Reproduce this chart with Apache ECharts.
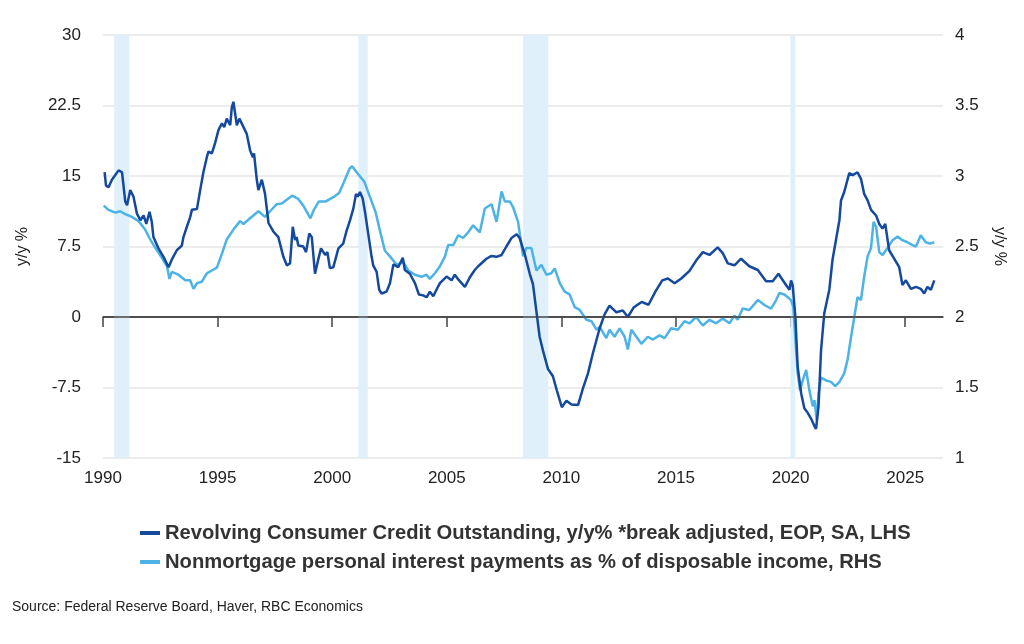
<!DOCTYPE html>
<html>
<head>
<meta charset="utf-8">
<script src="https://cdn.jsdelivr.net/npm/echarts@6/dist/echarts.min.js"></script>
<style>
  html, body { margin: 0; padding: 0; background: #fff; }
  #main { width: 1024px; height: 644px; }
</style>
</head>
<body>
<div id="main"></div>
<script>
// revolving credit, y/y % (left axis) as [year, value]
const revolving = [
  [1990.07, 15.4], [1990.13, 14.0], [1990.24, 13.8], [1990.39, 14.6], [1990.46, 14.4],
  [1990.68, 15.6], [1990.83, 15.4], [1990.97, 12.3], [1991.05, 11.9], [1991.19, 13.5],
  [1991.33, 12.8], [1991.48, 11.0], [1991.63, 10.3], [1991.77, 10.8], [1991.89, 9.9],
  [1992.03, 11.2], [1992.13, 10.1], [1992.20, 8.5], [1992.42, 7.3], [1992.64, 6.4],
  [1992.86, 5.3], [1993.00, 6.1], [1993.22, 7.1], [1993.44, 7.6], [1993.51, 8.5],
  [1993.66, 9.6], [1993.80, 10.6], [1993.88, 11.4], [1994.10, 11.5], [1994.24, 13.5],
  [1994.38, 15.4], [1994.53, 17.0], [1994.60, 17.6], [1994.75, 17.4], [1994.89, 18.5],
  [1995.04, 19.9], [1995.19, 20.6], [1995.29, 20.2], [1995.40, 21.1], [1995.55, 20.4],
  [1995.62, 22.3], [1995.69, 22.9], [1995.76, 23.1], [1995.84, 20.4], [1995.95, 21.1],
  [1996.13, 20.2], [1996.27, 19.5], [1996.42, 17.7], [1996.54, 17.0], [1996.59, 17.4],
  [1996.71, 14.6], [1996.78, 13.5], [1996.93, 14.6], [1997.07, 13.1], [1997.22, 10.0],
  [1997.29, 10.1], [1997.43, 9.1], [1997.65, 8.5], [1997.87, 6.4], [1998.02, 5.5],
  [1998.16, 5.7], [1998.28, 9.6], [1998.38, 8.2], [1998.45, 8.5], [1998.52, 7.6],
  [1998.74, 7.5], [1998.86, 6.9], [1999.00, 8.9], [1999.11, 8.5], [1999.25, 4.6],
  [1999.39, 6.1], [1999.51, 7.3], [1999.69, 6.6], [1999.79, 6.9], [1999.90, 5.2],
  [2000.05, 5.3], [2000.27, 7.3], [2000.48, 7.8], [2000.63, 9.2], [2000.78, 10.3],
  [2000.92, 11.5], [2001.04, 13.1], [2001.11, 12.8], [2001.21, 13.3], [2001.33, 12.6],
  [2001.43, 11.2], [2001.57, 8.9], [2001.72, 6.4], [2001.79, 5.5], [2001.94, 4.8],
  [2002.05, 2.9], [2002.16, 2.5], [2002.37, 2.7], [2002.52, 3.6], [2002.67, 5.6],
  [2002.88, 5.3], [2003.08, 6.3], [2003.17, 5.0], [2003.39, 4.6], [2003.61, 3.6],
  [2003.78, 2.4], [2003.97, 2.3], [2004.12, 2.1], [2004.26, 2.7], [2004.41, 2.2],
  [2004.55, 2.9], [2004.70, 3.6], [2004.99, 4.3], [2005.21, 3.9], [2005.35, 4.5],
  [2005.50, 4.0], [2005.79, 3.2], [2006.00, 4.2], [2006.22, 5.0], [2006.37, 5.4],
  [2006.73, 6.2], [2006.95, 6.5], [2007.17, 6.4], [2007.39, 6.6], [2007.60, 7.5],
  [2007.82, 8.4], [2008.05, 8.8], [2008.18, 8.4], [2008.40, 6.7], [2008.62, 4.6],
  [2008.76, 3.5], [2008.91, 0.6], [2009.05, -2.1], [2009.20, -3.6], [2009.41, -5.5],
  [2009.63, -6.3], [2009.80, -7.8], [2010.02, -9.6], [2010.22, -8.9], [2010.44, -9.3],
  [2010.73, -9.35], [2010.94, -7.6], [2011.16, -6.0], [2011.38, -3.8], [2011.67, -1.2],
  [2011.89, 0.3], [2012.10, 1.2], [2012.40, 0.5], [2012.68, 0.7], [2012.90, 0.0],
  [2013.15, 1.0], [2013.50, 1.6], [2013.80, 1.3], [2014.10, 2.7], [2014.40, 3.9],
  [2014.65, 4.1], [2014.94, 3.6], [2015.23, 4.1], [2015.59, 4.9], [2015.88, 6.0],
  [2016.17, 6.9], [2016.46, 6.6], [2016.82, 7.4], [2017.04, 6.8], [2017.26, 5.7],
  [2017.55, 5.5], [2017.84, 6.2], [2018.20, 5.4], [2018.57, 5.0], [2018.93, 3.8],
  [2019.22, 3.8], [2019.47, 4.6], [2019.80, 3.4], [2019.95, 2.9], [2020.02, 3.9],
  [2020.09, 3.4], [2020.21, 0.0], [2020.31, -5.3], [2020.46, -8.1], [2020.60, -9.7],
  [2020.75, -10.2], [2020.89, -10.8], [2021.04, -11.6], [2021.11, -11.9], [2021.22, -9.5],
  [2021.33, -3.5], [2021.47, 0.4], [2021.69, 2.9], [2021.83, 6.1], [2021.98, 8.2],
  [2022.13, 10.3], [2022.20, 12.4], [2022.34, 13.3], [2022.56, 15.3], [2022.71, 15.1],
  [2022.92, 15.4], [2023.07, 14.7], [2023.21, 13.1], [2023.36, 12.4], [2023.51, 11.4],
  [2023.73, 10.8], [2023.87, 9.9], [2024.01, 9.4], [2024.13, 9.9], [2024.30, 7.1],
  [2024.52, 6.2], [2024.74, 5.3], [2024.88, 3.4], [2025.03, 3.9], [2025.25, 3.0],
  [2025.47, 3.2], [2025.68, 3.0], [2025.83, 2.5], [2025.97, 3.2], [2026.12, 2.9],
  [2026.27, 3.9]
];

// nonmortgage interest payments, % of disposable income (right axis)
const interestPay = [
  [1990.03, 2.79], [1990.24, 2.76], [1990.54, 2.74], [1990.75, 2.75], [1990.97, 2.73],
  [1991.26, 2.71], [1991.55, 2.68], [1991.84, 2.62], [1992.06, 2.55], [1992.28, 2.49],
  [1992.57, 2.42], [1992.79, 2.36], [1992.90, 2.27], [1993.00, 2.32], [1993.29, 2.30],
  [1993.59, 2.26], [1993.80, 2.26], [1993.95, 2.20], [1994.10, 2.24], [1994.31, 2.25],
  [1994.53, 2.31], [1994.75, 2.33], [1994.97, 2.35], [1995.19, 2.45], [1995.40, 2.55],
  [1995.69, 2.62], [1995.98, 2.68], [1996.13, 2.66], [1996.34, 2.69], [1996.56, 2.72],
  [1996.78, 2.75], [1997.07, 2.71], [1997.29, 2.75], [1997.58, 2.80], [1997.80, 2.805],
  [1998.25, 2.86], [1998.50, 2.84], [1998.74, 2.79], [1999.05, 2.70], [1999.20, 2.76],
  [1999.42, 2.82], [1999.72, 2.82], [2000.05, 2.85], [2000.30, 2.88], [2000.52, 2.96],
  [2000.75, 3.05], [2000.87, 3.07], [2001.10, 3.02], [2001.40, 2.96], [2001.65, 2.85],
  [2001.90, 2.74], [2002.10, 2.60], [2002.30, 2.47], [2002.52, 2.43], [2002.81, 2.37],
  [2003.10, 2.39], [2003.32, 2.33], [2003.61, 2.30], [2003.90, 2.285], [2004.12, 2.30],
  [2004.26, 2.27], [2004.48, 2.31], [2004.70, 2.36], [2004.92, 2.43], [2005.06, 2.51],
  [2005.28, 2.51], [2005.50, 2.58], [2005.71, 2.56], [2005.93, 2.60], [2006.15, 2.65],
  [2006.44, 2.60], [2006.66, 2.77], [2006.95, 2.80], [2007.17, 2.675], [2007.39, 2.89],
  [2007.53, 2.82], [2007.75, 2.82], [2007.89, 2.78], [2008.11, 2.675], [2008.33, 2.43],
  [2008.47, 2.49], [2008.69, 2.49], [2008.91, 2.33], [2009.13, 2.37], [2009.35, 2.30],
  [2009.56, 2.31], [2009.71, 2.345], [2009.93, 2.24], [2010.14, 2.18], [2010.36, 2.16],
  [2010.58, 2.07], [2010.80, 2.05], [2011.09, 1.98], [2011.31, 1.97], [2011.53, 1.91],
  [2011.67, 1.93], [2011.96, 1.85], [2012.10, 1.91], [2012.32, 1.86], [2012.54, 1.92],
  [2012.76, 1.86], [2012.90, 1.77], [2013.05, 1.91], [2013.27, 1.86], [2013.49, 1.81],
  [2013.77, 1.86], [2013.99, 1.84], [2014.28, 1.87], [2014.50, 1.85], [2014.79, 1.92],
  [2015.08, 1.91], [2015.37, 1.97], [2015.59, 1.955], [2015.88, 2.00], [2016.17, 1.94],
  [2016.46, 1.98], [2016.75, 1.955], [2017.04, 1.99], [2017.33, 1.955], [2017.55, 2.01],
  [2017.69, 1.98], [2017.91, 2.06], [2018.20, 2.05], [2018.57, 2.12], [2018.86, 2.085],
  [2019.15, 2.06], [2019.37, 2.12], [2019.51, 2.17], [2019.73, 2.16], [2020.02, 2.12],
  [2020.12, 2.07], [2020.21, 1.84], [2020.31, 1.60], [2020.41, 1.48], [2020.53, 1.55],
  [2020.68, 1.625], [2020.82, 1.48], [2020.97, 1.365], [2021.04, 1.41], [2021.14, 1.27],
  [2021.22, 1.46], [2021.33, 1.57], [2021.55, 1.55], [2021.76, 1.54], [2021.95, 1.51],
  [2022.13, 1.54], [2022.34, 1.60], [2022.49, 1.70], [2022.64, 1.86], [2022.78, 2.00],
  [2022.92, 2.14], [2023.07, 2.12], [2023.21, 2.285], [2023.36, 2.43], [2023.51, 2.49],
  [2023.62, 2.675], [2023.73, 2.64], [2023.87, 2.46], [2024.01, 2.44], [2024.23, 2.49],
  [2024.45, 2.545], [2024.67, 2.57], [2024.88, 2.545], [2025.10, 2.53], [2025.32, 2.51],
  [2025.47, 2.50], [2025.68, 2.58], [2025.90, 2.53], [2026.08, 2.52], [2026.27, 2.53]
];

// recession periods (shaded)
const recessions = [[1990.49, 1991.15], [2001.14, 2001.55], [2008.33, 2009.43], [2019.99, 2020.2]];

const yearTicks = [1990, 1995, 2000, 2005, 2010, 2015, 2020, 2025];

const names = [
  'Revolving Consumer Credit Outstanding, y/y% *break adjusted, EOP, SA, LHS',
  'Nonmortgage personal interest payments as % of disposable income, RHS'
];

const font = 'Liberation Sans, Arial, sans-serif';

let chart = echarts.init(document.getElementById('main'));
chart.setOption({
  animation: false,
  textStyle: { fontFamily: font },
  grid: { left: 103, right: 81, top: 35, bottom: 186 },
  legend: {
    data: names,
    orient: 'vertical',
    left: 135,
    top: 518,
    itemWidth: 20,
    itemHeight: 4,
    itemGap: 9,
    icon: 'rect',
    textStyle: { fontSize: 20.2, fontWeight: 'bold', color: '#333', fontFamily: font }
  },
  graphic: [{
    type: 'text',
    left: 12,
    top: 600,
    style: { text: 'Source: Federal Reserve Board, Haver, RBC Economics', fontSize: 14, fill: '#222', fontFamily: font }
  }],
  xAxis: {
    type: 'value',
    min: 1990,
    max: 2026.65,
    splitLine: { show: false },
    axisLine: { lineStyle: { color: '#444', width: 1.5 } },
    axisTick: { length: 10, customValues: yearTicks, lineStyle: { color: '#444', width: 1.5 } },
    axisLabel: { customValues: yearTicks, fontSize: 17, color: '#222', margin: 12, formatter: v => String(v) }
  },
  yAxis: [{
    type: 'value',
    min: -15,
    max: 30,
    interval: 7.5,
    name: 'y/y %',
    nameLocation: 'middle',
    nameGap: 72,
    nameTextStyle: { fontSize: 16, color: '#222' },
    axisLine: { show: false },
    axisTick: { show: false },
    axisLabel: { fontSize: 17, color: '#222', margin: 22 },
    splitLine: { lineStyle: { color: '#e6e6e6', width: 1.5 } }
  }, {
    type: 'value',
    min: 1,
    max: 4,
    interval: 0.5,
    name: 'y/y %',
    nameLocation: 'middle',
    nameRotate: -90,
    nameGap: 48,
    nameTextStyle: { fontSize: 16, color: '#222' },
    axisLine: { show: false },
    axisTick: { show: false },
    axisLabel: { fontSize: 17, color: '#222', margin: 12 },
    splitLine: { show: false }
  }],
  series: [{
    name: names[0],
    type: 'line',
    data: revolving,
    showSymbol: false,
    color: '#14499e',
    lineStyle: { width: 2.5, color: '#14499e' },
    z: 3,
    markArea: {
      silent: true,
      itemStyle: { color: '#dff0fa' },
      data: recessions.map(r => [{ xAxis: r[0] }, { xAxis: r[1] }])
    },
    markLine: {
      silent: true,
      symbol: 'none',
      label: { show: false },
      lineStyle: { color: '#444', width: 1.5, type: 'solid' },
      data: [{ yAxis: 0 }]
    }
  }, {
    name: names[1],
    type: 'line',
    yAxisIndex: 1,
    data: interestPay,
    showSymbol: false,
    color: '#4cb3e4',
    lineStyle: { width: 2.5, color: '#4cb3e4' },
    z: 2
  }]
});
</script>
</body>
</html>
